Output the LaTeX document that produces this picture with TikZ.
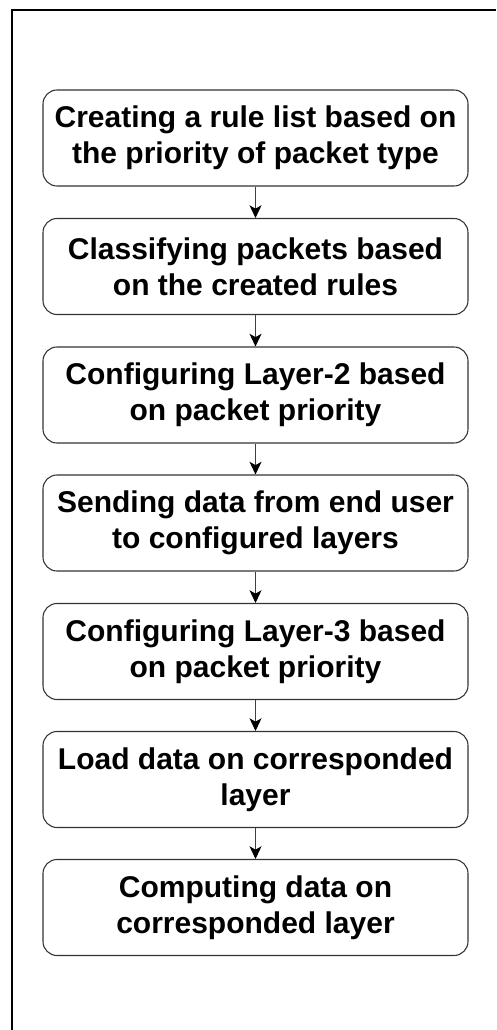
\documentclass[tikz,border=0pt]{standalone}
\usepackage{fontspec}
\setmainfont{Liberation Sans}
\usetikzlibrary{arrows.meta}

\tikzset{
  stepbox/.style={draw=black!80, line width=0.8pt, rounded corners=10.5pt,
    minimum width=318.75pt, minimum height=72pt, inner sep=0pt,
    align=center, fill=white,
    font=\fontsize{22.5pt}{27pt}\selectfont\bfseries},
  flow/.style={draw=black!75, line width=0.9pt,
    -{Stealth[length=9.5pt, width=9pt, inset=2.5pt, color=black]}},
  frame/.style={draw=black, line width=1pt}
}

\begin{document}
\begin{tikzpicture}[x=0.75pt, y=-0.75pt]
  % page extent: 496 x 1030 units
  \useasboundingbox (0,0) rectangle (496,1030);
  \fill[white] (0,0) rectangle (496,1030);

  % outer frame (runs off the right and bottom of the page)
  \coordinate (fbl) at (12,1030);
  \coordinate (ftl) at (12,10);
  \coordinate (ftr) at (496,10);
  \draw[frame] (fbl) -- (ftl) -- (ftr);

  % process steps
  \node[stepbox] (s1) at (255.5,138) {Creating a rule list based on\\the priority of packet type};
  \node[stepbox] (s2) at (255.5,266.5) {Classifying packets based\\on the created rules};
  \node[stepbox] (s3) at (255.5,395) {Configuring Layer-2 based\\on packet priority};
  \node[stepbox] (s4) at (255.5,523) {Sending data from end user\\to configured layers};
  \node[stepbox] (s5) at (255.5,651.5) {Configuring Layer-3 based\\on packet priority};
  \node[stepbox] (s6) at (255.5,779.5) {Load data on corresponded\\layer};
  \node[stepbox] (s7) at (255.5,907.5) {Computing data on\\corresponded layer};

  % connectors
  \draw[flow] (s1) -- (s2);
  \draw[flow] (s2) -- (s3);
  \draw[flow] (s3) -- (s4);
  \draw[flow] (s4) -- (s5);
  \draw[flow] (s5) -- (s6);
  \draw[flow] (s6) -- (s7);
\end{tikzpicture}
\end{document}
